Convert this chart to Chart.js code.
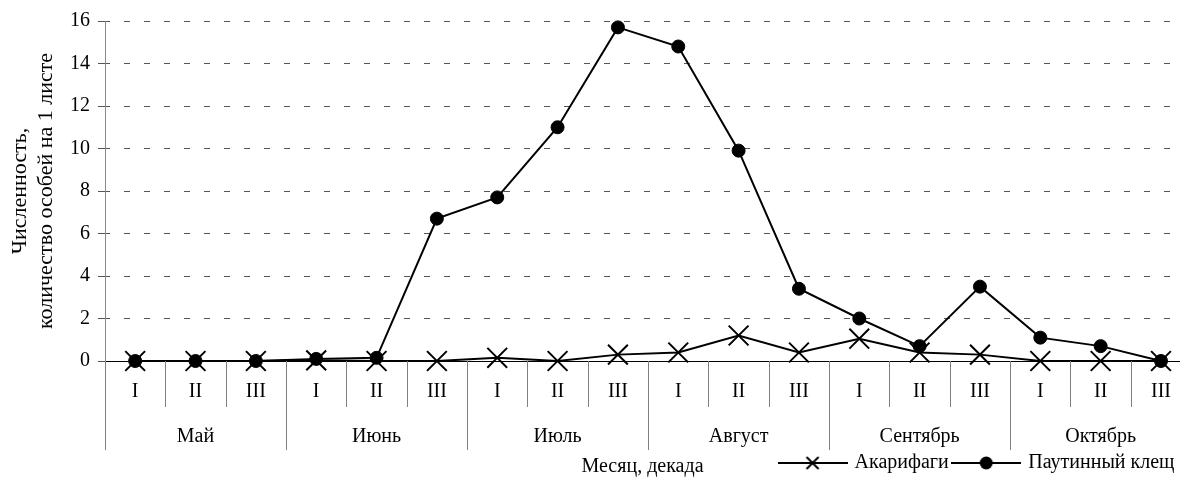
<!DOCTYPE html>
<html>
<head>
<meta charset="utf-8">
<script src="https://cdn.jsdelivr.net/npm/chart.js@4.4.1/dist/chart.umd.min.js"></script>
<style>
  html, body { margin: 0; padding: 0; overflow: hidden; background: #fff; }
</style>
</head>
<body>
<canvas id="c" width="1180" height="477"></canvas>
<script>
// ---- data ----
const decadeLabels = ['I','II','III','I','II','III','I','II','III','I','II','III','I','II','III','I','II','III'];
const monthLabels = ['Май','Июнь','Июль','Август','Сентябрь','Октябрь'];
const acariName = 'Акарифаги';
const miteName = 'Паутинный клещ';
const acariValues = [0, 0, 0, 0.03, 0, 0, 0.15, 0, 0.3, 0.4, 1.2, 0.4, 1.05, 0.4, 0.3, 0, 0, 0];
const miteValues  = [0, 0, 0, 0.1, 0.15, 6.7, 7.7, 11.0, 15.7, 14.8, 9.9, 3.4, 2.0, 0.7, 3.5, 1.1, 0.7, 0];
const yTitleLines = ['Численность,', 'количество особей на 1 листе'];
const xTitle = 'Месяц, декада';
// visible x range (plot is cut at the right edge of the picture)
const xAxisMin = -0.5;
const xAxisMax = 17.315;
const yAxisMin = 0, yAxisMax = 16, yStep = 2;

const FONT = 'Liberation Serif';
Chart.defaults.font.family = FONT;
Chart.defaults.color = '#000';

const decadePositions = decadeLabels.map((_, i) => i);
const monthPositions = monthLabels.map((_, m) => m * 3 + 1);

function makeIcon(kind) {
  const w = 70, h = 16;
  const cv = document.createElement('canvas');
  cv.width = w; cv.height = h;
  const g = cv.getContext('2d');
  g.strokeStyle = '#000'; g.fillStyle = '#000'; g.lineWidth = 2;
  g.beginPath(); g.moveTo(0, h / 2); g.lineTo(w, h / 2); g.stroke();
  if (kind === 'x') {
    g.beginPath();
    g.moveTo(w / 2 - 6, h / 2 - 6); g.lineTo(w / 2 + 6, h / 2 + 6);
    g.moveTo(w / 2 + 6, h / 2 - 6); g.lineTo(w / 2 - 6, h / 2 + 6);
    g.stroke();
  } else {
    g.beginPath(); g.arc(w / 2, h / 2, 6.5, 0, Math.PI * 2); g.fill();
  }
  return cv;
}
const legendIcons = [makeIcon('x'), makeIcon('o')];

// decade / month separators below the category axis, placed with the x scale
const separatorPlugin = {
  id: 'separators',
  afterDraw(chart) {
    const xs = chart.scales.x;
    const a = chart.chartArea;
    const ctx = chart.ctx;
    ctx.save();
    ctx.strokeStyle = '#808080';
    ctx.lineWidth = 1;
    for (let i = 0; i <= decadeLabels.length; i++) {
      const px = Math.round(xs.getPixelForValue(i - 0.5)) + 0.5;
      if (px > chart.width) continue;
      const len = (i % 3 === 0) ? 89 : 46;
      ctx.beginPath();
      ctx.moveTo(px, a.bottom);
      ctx.lineTo(px, a.bottom + len);
      ctx.stroke();
    }
    ctx.restore();
  }
};

new Chart(document.getElementById('c'), {
  type: 'line',
  data: {
    datasets: [
      {
        label: acariName,
        data: acariValues.map((v, i) => ({ x: decadePositions[i], y: v })),
        borderColor: '#000',
        backgroundColor: '#000',
        borderWidth: 2,
        pointStyle: 'crossRot',
        pointRadius: 14,
        pointBorderWidth: 2,
        pointBorderColor: '#000',
        tension: 0,
        clip: false
      },
      {
        label: miteName,
        data: miteValues.map((v, i) => ({ x: decadePositions[i], y: v })),
        borderColor: '#000',
        backgroundColor: '#000',
        borderWidth: 2,
        pointStyle: 'circle',
        pointRadius: 6.5,
        pointBorderWidth: 1,
        pointBorderColor: '#000',
        pointBackgroundColor: '#000',
        tension: 0,
        clip: false
      }
    ]
  },
  plugins: [separatorPlugin],
  options: {
    responsive: false,
    animation: false,
    events: [],
    layout: { autoPadding: false, padding: { left: 0, right: 0, top: 21, bottom: -6 } },
    plugins: {
      tooltip: { enabled: false },
      legend: {
        position: 'bottom',
        align: 'end',
        labels: {
          usePointStyle: true,
          pointStyleWidth: 64,
          padding: 5.5,
          color: '#000',
          font: { family: FONT, size: 20 },
          generateLabels: (chart) => {
            const items = Chart.defaults.plugins.legend.labels.generateLabels(chart);
            items.forEach((it, i) => { it.pointStyle = legendIcons[i]; });
            return items;
          }
        }
      }
    },
    scales: {
      x: {
        type: 'linear',
        position: 'bottom',
        min: xAxisMin,
        max: xAxisMax,
        afterBuildTicks: (scale) => { scale.ticks = decadePositions.map(v => ({ value: v })); },
        grid: { display: true, drawOnChartArea: false, drawTicks: true, tickLength: 21, tickColor: 'rgba(0,0,0,0)' },
        border: { display: true, color: '#000', width: 1 },
        ticks: {
          autoSkip: false, maxRotation: 0, minRotation: 0, padding: 0, color: '#000',
          font: { family: FONT, size: 20, lineHeight: 1.0 },
          callback: (value, index) => decadeLabels[index]
        }
      },
      x2: {
        type: 'linear',
        position: 'bottom',
        min: xAxisMin,
        max: xAxisMax,
        afterBuildTicks: (scale) => { scale.ticks = monthPositions.map(v => ({ value: v })); },
        grid: { display: true, drawOnChartArea: false, drawTicks: true, tickLength: 23.5, tickColor: 'rgba(0,0,0,0)' },
        border: { display: false },
        ticks: {
          autoSkip: false, maxRotation: 0, minRotation: 0, padding: 1, color: '#000',
          font: { family: FONT, size: 20, lineHeight: 1.0 },
          callback: (value, index) => monthLabels[index]
        },
        title: { display: true, text: xTitle, color: '#000', font: { family: FONT, size: 20, lineHeight: 1.2 }, padding: { top: 7.5, bottom: -31.5 } }
      },
      y: {
        min: yAxisMin,
        max: yAxisMax,
        ticks: { stepSize: yStep, padding: 8, color: '#000', font: { family: FONT, size: 20 } },
        grid: { color: '#555', tickColor: '#555', tickLength: 7, lineWidth: 1 },
        border: { display: true, color: '#888', width: 1, dash: [6, 14], dashOffset: 2 },
        title: { display: true, text: yTitleLines, color: '#000', font: { family: FONT, size: 22, lineHeight: 1.2 }, padding: { top: 7, bottom: 2.2 } }
      }
    }
  }
});
</script>
</body>
</html>
